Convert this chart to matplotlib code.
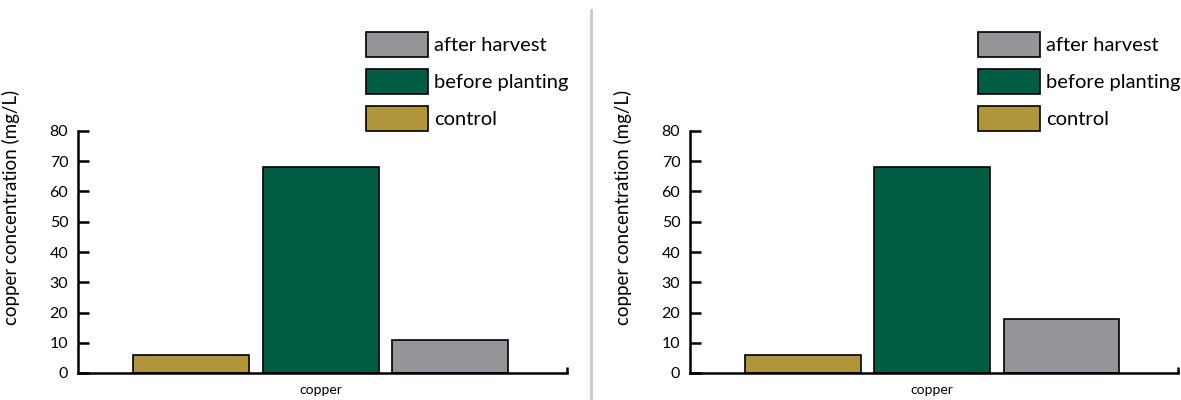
import matplotlib
matplotlib.use("Agg")
import matplotlib.pyplot as plt
from matplotlib.lines import Line2D
import numpy as np

plt.rcParams['font.family'] = ['Lato', 'DejaVu Sans']

categories = ["copper"]
series_names = ["control", "before planting", "after harvest"]
colors = ["#b0953b", "#005c42", "#939598"]
left_values = [6, 68, 11]
right_values = [6, 68, 18]
yticks = [0, 10, 20, 30, 40, 50, 60, 70, 80]
ylabel = "copper concentration (mg/L)"

W, H = 1181, 400
fig = plt.figure(figsize=(W / 100, H / 100), dpi=100)

panels = [(78, 567, left_values), (690, 1178, right_values)]
ax_bottom, ax_top = 373, 131

for (x0, x1, vals) in panels:
    ax = fig.add_axes([x0 / W, 1 - ax_bottom / H, (x1 - x0) / W, (ax_bottom - ax_top) / H])
    offsets = np.array([-1.0, 0.0, 1.0])
    for i, (name, c, v) in enumerate(zip(series_names, colors, vals)):
        ax.bar(offsets[i], v, width=0.895, color=c, edgecolor="black",
               linewidth=1.2, label=name, zorder=2)
    ax.set_xlim(-1.87, 1.90)
    ax.set_ylim(0, 80)
    ax.set_yticks(yticks)
    ax.set_xticks([0])
    ax.set_xticklabels(categories, fontsize=10)
    ax.tick_params(axis='x', length=0, pad=8)
    ax.set_xticks([1.90], minor=True)
    ax.tick_params(axis='x', which='minor', direction='in', length=4, width=1.8, color='black')
    ax.tick_params(axis='y', direction='in', length=8, width=1.8, labelsize=11.5, pad=7)
    for s in ['top', 'right']:
        ax.spines[s].set_visible(False)
    for s in ['left', 'bottom']:
        ax.spines[s].set_linewidth(1.8)
        ax.spines[s].set_zorder(3)
    ax.set_ylabel(ylabel, fontsize=13.5)
    ax.yaxis.set_label_coords(-0.119, 0.686)

    handles, labels = ax.get_legend_handles_labels()
    leg = ax.legend(handles[::-1], labels[::-1], loc='upper left',
                    bbox_to_anchor=((x0 + 288) / W, 1 - 32 / H),
                    bbox_transform=fig.transFigure, frameon=False,
                    fontsize=14.5, handlelength=3.1, handleheight=1.5,
                    labelspacing=0.62, handletextpad=0.3,
                    borderpad=0, borderaxespad=0)

fig.add_artist(Line2D([591 / W, 591 / W], [0, 1 - 10 / H], color="#cccccc",
                      linewidth=2.2, transform=fig.transFigure))

fig.savefig("out.png", dpi=100)
